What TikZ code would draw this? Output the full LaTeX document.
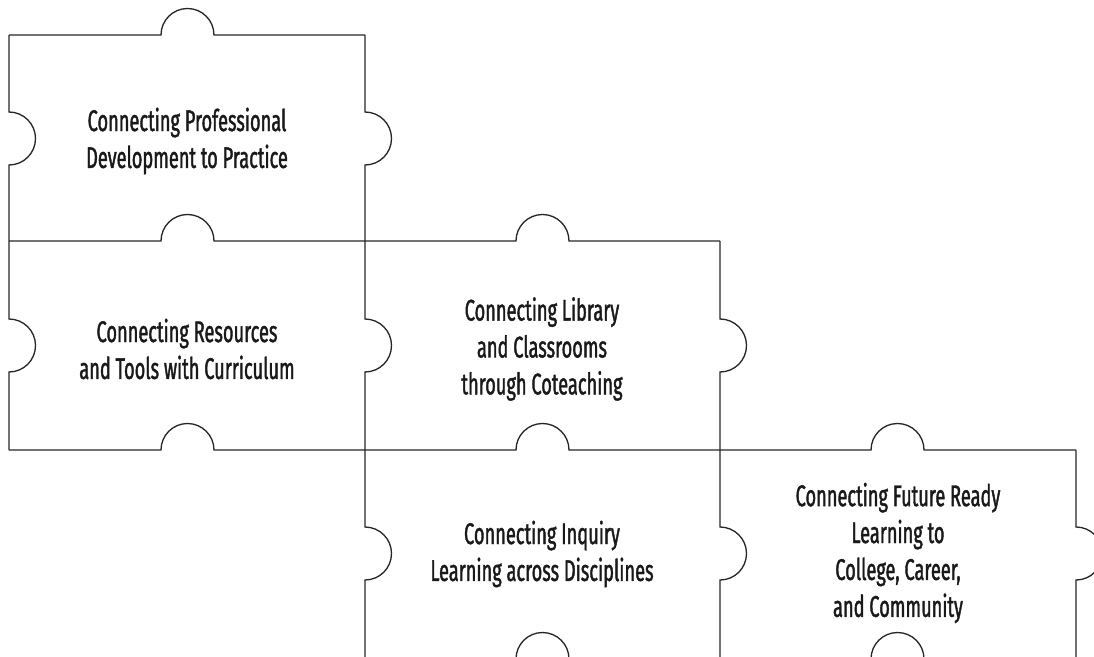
\documentclass[tikz,border=0pt]{standalone}
\usepackage{fontspec}
\setmainfont{Fira Sans}[FakeStretch=0.61,FakeBold=1.3]
\begin{document}
\begin{tikzpicture}[x=0.02cm,y=-0.02cm]
    \tikzset{edge/.style={line width=0.75pt, black!85},
        label/.style={align=center, text=black!90, font=\fontsize{17}{21}\selectfont}}
    \useasboundingbox (0,0) rectangle (1094,656);

    % horizontal edges, tabs bulge up
    \draw[edge] (9,35) -- (161,35) arc(180:360:26.5) -- (365,35);
    \draw[edge] (9,241) -- (161,241) arc(180:360:26.5) -- (516,241) arc(180:360:26.5) -- (720,241);
    \draw[edge] (9,450) -- (161,450) arc(180:360:26.5) -- (516,450) arc(180:360:26.5) -- (871,450) arc(180:360:26.5) -- (1076,450);
    \draw[edge] (365,659) -- (516,659) arc(180:360:26.5) -- (871,659) arc(180:360:26.5) -- (1076,659);

    % vertical edges, tabs bulge right
    \draw[edge] (9,35) -- (9,112) arc(-90:90:26.5) -- (9,319) arc(-90:90:26.5) -- (9,450);
    \draw[edge] (365,35) -- (365,112) arc(-90:90:26.5) -- (365,319) arc(-90:90:26.5) -- (365,527) arc(-90:90:26.5) -- (365,659);
    \draw[edge] (720,241) -- (720,319) arc(-90:90:26.5) -- (720,527) arc(-90:90:26.5) -- (720,659);
    \draw[edge] (1076,450) -- (1076,527) arc(-90:90:26.5) -- (1076,659);

    \node[label] (pd) at (187,141) {Connecting Professional\\Development to Practice};
    \node[label] (res) at (187,349) {Connecting Resources\\and Tools with Curriculum};
    \node[label] (lib) at (542,349) {Connecting Library\\and Classrooms\\through Coteaching};
    \node[label] (inq) at (542,554) {Connecting Inquiry\\Learning across Disciplines};
    \node[label] (fut) at (898,553) {Connecting Future Ready\\Learning to\\College, Career,\\and Community};

\end{tikzpicture}
\end{document}
